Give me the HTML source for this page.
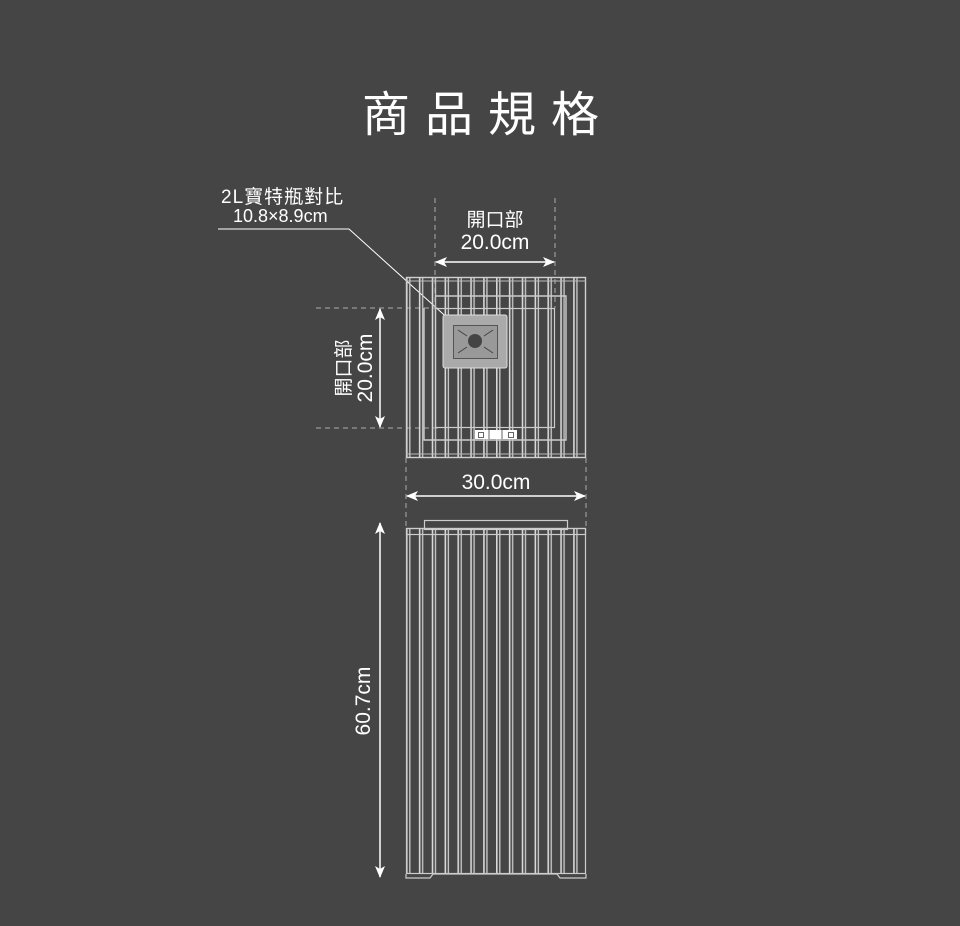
<!DOCTYPE html>
<html><head><meta charset="utf-8"><style>
html,body{margin:0;padding:0;background:#454545;}
svg{display:block}
text{font-family:"Liberation Sans","Noto Sans CJK TC",sans-serif;fill:#fff}
</style></head><body>
<svg width="960" height="926" viewBox="0 0 960 926" xmlns="http://www.w3.org/2000/svg">
<defs>
<pattern id="sl" x="406" y="0" width="12.857" height="10" patternUnits="userSpaceOnUse">
<line x1="0.8" y1="0" x2="0.8" y2="10" stroke="#d8d8d8" stroke-width="1.6"/>
<line x1="3.8" y1="0" x2="3.8" y2="10" stroke="#c4c4c4" stroke-width="1.4"/>
</pattern>
<marker id="ah" markerWidth="12" markerHeight="10" refX="11" refY="5" orient="auto-start-reverse" markerUnits="userSpaceOnUse">
<path d="M0,0 L12,5 L0,10 L3,5 Z" fill="#fff"/>
</marker>
</defs>
<text x="488" y="131" font-size="48" text-anchor="middle" letter-spacing="15">商品規格</text>

<text x="221" y="203" font-size="19" letter-spacing="1">2L寶特瓶對比</text>
<text x="233" y="222" font-size="18">10.8×8.9cm</text>
<polyline points="218,229 349,229 452,322" fill="none" stroke="#fff" stroke-width="1"/>

<g stroke="#aaa" stroke-width="1" stroke-dasharray="5,4" fill="none">
<line x1="435" y1="198" x2="435" y2="308"/>
<line x1="555" y1="198" x2="555" y2="308"/>
<line x1="316" y1="308" x2="440" y2="308"/>
<line x1="316" y1="428" x2="440" y2="428"/>
<line x1="406" y1="458" x2="406" y2="530"/>
<line x1="586" y1="458" x2="586" y2="530"/>
</g>

<rect x="406" y="277" width="180" height="181" fill="url(#sl)"/>
<rect x="406.5" y="277.5" width="179" height="180" fill="none" stroke="#d0d0d0" stroke-width="1.4"/>
<line x1="406" y1="281" x2="586" y2="281" stroke="#bbb"/>
<line x1="406" y1="454" x2="586" y2="454" stroke="#bbb"/>
<polyline points="435,296 566,296 566,440 424,440 424,308" fill="none" stroke="#ccc" stroke-width="1.4"/>
<rect x="435.5" y="308.5" width="119" height="119" fill="none" stroke="#ccc" stroke-width="1.2"/>
<rect x="443" y="315" width="64" height="53" rx="2" fill="#aaaaaa" stroke="#ddd"/>
<rect x="453.5" y="325.5" width="44" height="33" fill="#999" stroke="#555"/>
<g stroke="#444" stroke-width="1"><line x1="458" y1="330" x2="467" y2="336"/><line x1="493" y1="330" x2="484" y2="336"/><line x1="458" y1="353" x2="467" y2="347"/><line x1="493" y1="353" x2="484" y2="347"/></g>
<circle cx="475" cy="341" r="7" fill="#444"/>
<rect x="475" y="430" width="42" height="9" fill="#fff"/>
<rect x="478.5" y="432.5" width="5" height="5" fill="none" stroke="#666"/>
<rect x="508.5" y="432.5" width="5" height="5" fill="none" stroke="#666"/>
<line x1="489" y1="430" x2="489" y2="439" stroke="#666"/><line x1="502" y1="430" x2="502" y2="439" stroke="#666"/>

<rect x="424.5" y="520.5" width="143" height="9" fill="none" stroke="#ccc" stroke-width="1.2"/>
<rect x="406" y="528" width="180" height="346" fill="url(#sl)"/>
<rect x="406.5" y="528.5" width="179" height="6" fill="none" stroke="#ccc" stroke-width="1.2"/>
<rect x="406.5" y="528.5" width="179" height="345" fill="none" stroke="#ccc" stroke-width="1.2"/>
<polyline points="406,874 406,878 430,878 433,874 557,874 560,878 586,878 586,874" fill="none" stroke="#ccc" stroke-width="1.2"/>

<g stroke="#fff" stroke-width="1.5" fill="none">
<line x1="436" y1="262" x2="554" y2="262" marker-start="url(#ah)" marker-end="url(#ah)"/>
<line x1="407" y1="496" x2="585" y2="496" marker-start="url(#ah)" marker-end="url(#ah)"/>
<line x1="380" y1="309" x2="380" y2="427" marker-start="url(#ah)" marker-end="url(#ah)"/>
<line x1="380" y1="523" x2="380" y2="877" marker-start="url(#ah)" marker-end="url(#ah)"/>
</g>
<text x="495" y="226" font-size="19" text-anchor="middle">開口部</text>
<text x="495" y="249" font-size="21" text-anchor="middle">20.0cm</text>
<text x="496" y="489" font-size="21" text-anchor="middle">30.0cm</text>
<text transform="translate(350,368) rotate(-90)" font-size="19" text-anchor="middle">開口部</text>
<text transform="translate(372,368) rotate(-90)" font-size="21" text-anchor="middle">20.0cm</text>
<text transform="translate(370,701) rotate(-90)" font-size="21" text-anchor="middle">60.7cm</text>
</svg>
</body></html>
